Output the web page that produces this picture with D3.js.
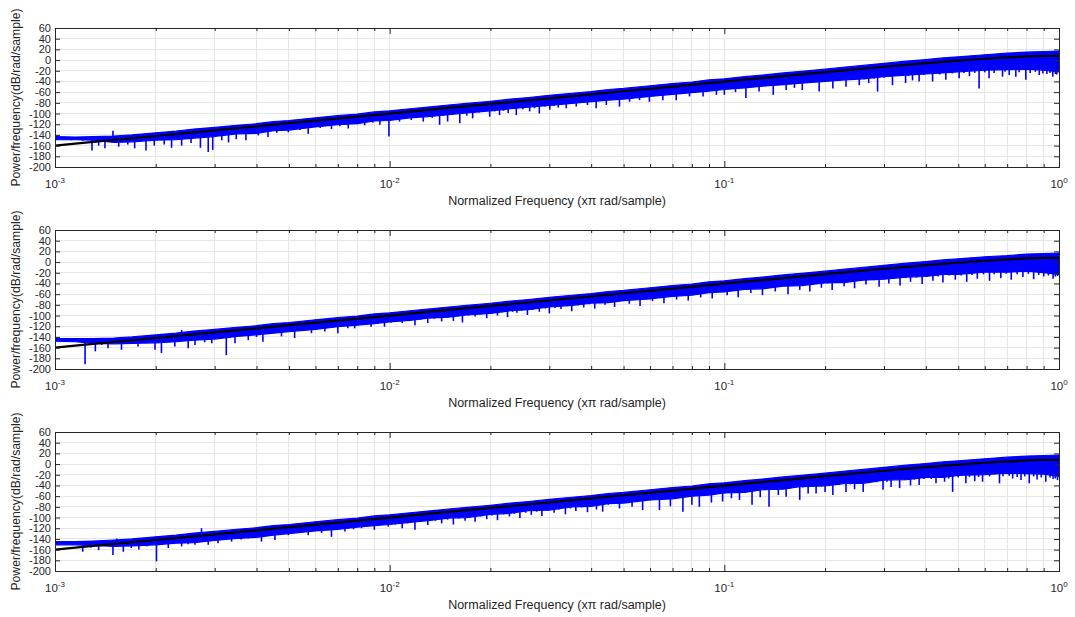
<!DOCTYPE html>
<html><head><meta charset="utf-8">
<script src="https://cdn.jsdelivr.net/npm/d3@7"></script>
<style>
body{margin:0;background:#fff}
svg{display:block}
text{font-family:"Liberation Sans",Arial,Helvetica,sans-serif;fill:#262626}
</style>
</head><body>
<svg id="chart" width="1075" height="617"></svg>
<script>
// ---------- data ----------
const yTickValues = [60,40,20,0,-20,-40,-60,-80,-100,-120,-140,-160,-180,-200];
const xDecades = [0.001, 0.01, 0.1, 1];
const xDecadeExponents = ["-3","-2","-1","0"];
const xLabelText = "Normalized Frequency (x\u03C0 rad/sample)";
const yLabelText = "Power/frequency(dB/rad/sample)";

// black fitted curve (same in all three panels)
const fitFreq = [0.001,0.002,0.005,0.01,0.02,0.05,0.1,0.2,0.3,0.4,0.5,0.6,0.7,0.8,0.9,1.0];
const fitDb   = [-160,-142,-118,-100,-82,-58.3,-40.3,-22.5,-12.5,-5.8,-1,2.5,5,6.8,7.7,8];

// dense blue PSD: upper / lower edge of the solid band
const bandFreq = [0.001,0.00115,0.0013,0.0015,0.0017,0.002,0.0023,0.0026,0.003,0.0035,0.004,0.0045,0.005,0.006,0.007,0.008,0.009,
  0.01,0.0115,0.013,0.015,0.017,0.02,0.023,0.026,0.03,0.035,0.04,0.045,0.05,0.06,0.07,0.08,0.09,
  0.1,0.115,0.13,0.15,0.17,0.2,0.23,0.26,0.3,0.35,0.4,0.45,0.5,0.6,0.7,0.8,0.9,1.0];
const band1Top = [-143,-144,-143,-142,-140,-136,-133,-129,-126,-122,-119,-115,-113,-108,-104,-101,-97,
  -95,-91,-88,-84,-81,-77,-73,-70,-66,-62,-59,-55,-53,-48,-44,-41,-37,
  -35,-31,-28,-24,-21,-17,-13,-10,-6,-2,1,4,6,10,13,15,16,17];
const band1Bottom = [-149,-149,-150,-154,-153,-150,-149,-146,-143,-138,-137,-132,-131,-125,-121,-119,-114,
  -113,-108,-106,-102,-99,-95,-91,-88,-85,-81,-78,-75,-73,-68,-64,-61,-58,
  -55,-52,-49,-46,-43,-40,-37,-35,-31,-28,-26,-24,-22,-19,-18,-17,-19,-22];
const band2Top = [-143,-143,-143,-142,-140,-136,-133,-129,-126,-122,-119,-115,-113,-108,-104,-101,-97,
  -95,-91,-88,-84,-81,-77,-73,-70,-66,-62,-59,-55,-53,-48,-44,-41,-37,
  -35,-31,-28,-24,-21,-17,-13,-10,-6,-2,1,4,6,10,12,15,16,17];
const band2Bottom = [-148,-149,-152,-153,-152,-151,-149,-146,-144,-139,-136,-133,-130,-126,-121,-118,-115,
  -112,-109,-105,-103,-99,-96,-91,-89,-84,-81,-77,-76,-72,-69,-64,-62,-57,
  -56,-51,-50,-45,-44,-39,-38,-34,-32,-28,-27,-23,-23,-19,-19,-17,-20,-23];
const band3Top = [-145,-145,-144,-142,-140,-136,-133,-129,-126,-122,-119,-115,-113,-108,-104,-101,-97,
  -95,-91,-88,-84,-81,-77,-73,-70,-66,-62,-59,-55,-53,-48,-44,-41,-37,
  -35,-31,-28,-24,-21,-17,-13,-10,-6,-2,1,4,6,10,13,15,16,17];
const band3Bottom = [-151,-151,-152,-154,-153,-151,-148,-147,-143,-139,-137,-133,-130,-125,-122,-118,-115,
  -113,-109,-106,-101,-100,-94,-92,-87,-86,-80,-79,-74,-73,-67,-65,-60,-58,
  -54,-53,-48,-47,-42,-41,-36,-36,-30,-29,-25,-25,-21,-20,-17,-18,-19,-23];

// blue PSD dips / spikes [frequency, dB]
const spikes1 = [
 [0.00112,-150],[0.00121,-151],[0.00129,-169],[0.00135,-160],[0.00141,-165],[0.00149,-132],[0.00155,-162],[0.00165,-158],
 [0.00173,-165],[0.00187,-169],[0.00198,-160],[0.00212,-158],[0.00223,-164],[0.00239,-160],[0.00255,-155],[0.00272,-164],
 [0.00287,-172],[0.00296,-168],[0.00315,-150],[0.0033,-154],[0.00348,-148],[0.00372,-150],[0.00405,-141],[0.00433,-144],
 [0.0046,-136],[0.00498,-135],[0.0054,-131],[0.00571,-138],[0.0062,-127],[0.0067,-129],[0.0071,-124],[0.00752,-128],
 [0.008,-120],[0.00842,-122],[0.0089,-117],[0.00935,-121],[0.00995,-143],
 [0.0107,-115],[0.0116,-112],[0.0126,-115],[0.0134,-108],[0.0141,-121],[0.0149,-115],[0.0162,-118],[0.017,-104],
 [0.0177,-109],[0.0199,-106],[0.0213,-103],[0.0226,-99],[0.0239,-103],[0.0262,-96],[0.028,-100],[0.0301,-93],
 [0.0319,-89],[0.0337,-90],[0.0361,-87],[0.039,-84],[0.0414,-90],[0.0444,-84],[0.0486,-87],[0.0521,-78],
 [0.0558,-75],[0.0597,-78],[0.0655,-75],[0.0718,-75],[0.0787,-68],[0.0864,-68],[0.0947,-65],
 [0.1,-65],[0.108,-60],[0.116,-71],[0.127,-59],[0.14,-65],[0.153,-56],[0.162,-52],[0.171,-56],[0.192,-59],
 [0.211,-53],[0.231,-50],[0.253,-47],[0.27,-43],[0.287,-59],[0.318,-47],[0.348,-43],[0.365,-38],[0.382,-40],
 [0.419,-40],[0.459,-37],[0.503,-34],[0.54,-30],[0.577,-53],[0.618,-34],[0.678,-31],[0.71,-28],[0.743,-31],
 [0.796,-37],[0.873,-28],[0.92,-26],[0.958,-31],[0.985,-27],
 [0.0103,-112],[0.0111,-110],[0.0121,-108],[0.0131,-106],[0.0145,-104],[0.0155,-102],[0.0185,-98],[0.0206,-96],
 [0.0219,-95],[0.025,-92],[0.0271,-90],[0.0291,-87],[0.031,-86],[0.0349,-82],[0.0375,-80],[0.0402,-79],[0.043,-76],
 [0.0465,-74],[0.05,-72],[0.054,-70],[0.0578,-68],[0.0625,-65],[0.0685,-63],[0.075,-61],[0.0825,-58],[0.09,-57],
 [0.104,-54],[0.112,-52],[0.121,-50],[0.133,-49],[0.146,-47],[0.158,-45],[0.182,-42],[0.2,-41],[0.221,-39],
 [0.242,-37],[0.262,-36],[0.28,-35],[0.3,-33],[0.335,-30],[0.355,-30],[0.395,-28],[0.44,-27],[0.48,-25],
 [0.52,-24],[0.56,-24],[0.6,-23],[0.64,-24],[0.69,-22],[0.76,-23],[0.82,-24],[0.85,-22],[0.895,-25],[0.94,-24],[0.975,-26]
];
const spikes2 = [
 [0.00112,-149],[0.00123,-191],[0.00132,-167],[0.00138,-155],[0.00144,-161],[0.00158,-164],[0.00167,-150],[0.00177,-158],
 [0.00199,-164],[0.00208,-170],[0.00228,-158],[0.00239,-127],[0.0025,-161],[0.00262,-155],[0.0028,-150],[0.00294,-152],
 [0.00325,-174],[0.00345,-152],[0.00378,-146],[0.004,-140],[0.00418,-149],[0.00475,-139],[0.0052,-142],[0.00584,-133],
 [0.0064,-130],[0.007,-133],[0.0075,-124],[0.00786,-124],[0.0088,-121],[0.00965,-121],
 [0.0109,-114],[0.0119,-118],[0.013,-114],[0.0143,-111],[0.0155,-110],[0.0165,-113],[0.018,-102],[0.0195,-105],
 [0.021,-100],[0.0225,-103],[0.024,-95],[0.0258,-99],[0.028,-93],[0.03,-96],[0.0325,-88],[0.035,-92],[0.038,-85],
 [0.041,-87],[0.044,-80],[0.047,-84],[0.052,-78],[0.056,-82],[0.061,-73],[0.066,-77],[0.072,-70],[0.078,-72],
 [0.085,-66],[0.092,-68],
 [0.102,-62],[0.11,-66],[0.12,-58],[0.13,-62],[0.142,-55],[0.155,-60],[0.168,-52],[0.18,-55],[0.195,-48],
 [0.21,-52],[0.228,-45],[0.245,-49],[0.265,-42],[0.29,-46],[0.31,-40],[0.335,-44],[0.36,-37],[0.39,-41],
 [0.42,-35],[0.45,-38],[0.49,-33],[0.53,-37],[0.57,-31],[0.62,-35],[0.67,-30],[0.72,-33],[0.78,-28],
 [0.84,-32],[0.9,-27],[0.96,-31],[0.99,-26],
 [0.0101,-113],[0.0114,-110],[0.0124,-108],[0.0136,-106],[0.0149,-104],[0.016,-102],[0.0172,-100],[0.0188,-98],
 [0.0203,-96],[0.0217,-94],[0.0233,-93],[0.0248,-91],[0.0268,-89],[0.0292,-87],[0.0312,-86],[0.0338,-83],
 [0.0365,-81],[0.0395,-79],[0.0425,-77],[0.0455,-75],[0.0495,-73],[0.054,-70],[0.0585,-68],[0.0635,-66],
 [0.069,-63],[0.075,-61],[0.0815,-59],[0.0885,-57],[0.096,-55],[0.106,-53],[0.115,-51],[0.125,-49],[0.136,-48],
 [0.148,-46],[0.161,-44],[0.174,-43],[0.187,-41],[0.203,-40],[0.22,-38],[0.237,-37],[0.255,-35],[0.28,-34],
 [0.3,-32],[0.322,-31],[0.348,-30],[0.375,-29],[0.405,-27],[0.435,-27],[0.47,-25],[0.51,-25],[0.55,-24],
 [0.595,-23],[0.64,-23],[0.695,-22],[0.75,-23],[0.81,-22],[0.87,-24],[0.93,-25],[0.975,-27]
];
const spikes3 = [
 [0.00113,-151],[0.00121,-164],[0.00128,-156],[0.00135,-161],[0.00149,-170],[0.00153,-139],[0.0016,-164],[0.00169,-157],
 [0.00178,-160],[0.00188,-154],[0.00201,-182],[0.00218,-157],[0.00239,-154],[0.0025,-150],[0.00262,-151],[0.00274,-120],
 [0.00287,-151],[0.00307,-148],[0.00337,-145],[0.0036,-141],[0.00378,-139],[0.00414,-145],[0.00454,-142],[0.00498,-133],
 [0.0054,-128],[0.00571,-133],[0.00626,-129],[0.0067,-136],[0.00735,-126],[0.0078,-122],[0.00824,-120],[0.009,-123],[0.0099,-117],
 [0.0109,-120],[0.0119,-123],[0.013,-114],[0.0143,-111],[0.0155,-113],[0.0168,-106],[0.018,-108],[0.0195,-103],
 [0.021,-105],[0.0228,-98],[0.0245,-101],[0.0265,-95],[0.0285,-97],[0.031,-91],[0.0335,-94],[0.036,-88],[0.039,-90],
 [0.0415,-85],[0.0433,-89],[0.0486,-83],[0.053,-80],[0.057,-86],[0.064,-86],[0.069,-79],[0.0752,-89],[0.08,-76],
 [0.0842,-80],[0.0915,-72],[0.0988,-70],
 [0.105,-64],[0.111,-67],[0.121,-76],[0.128,-62],[0.136,-80],[0.145,-58],[0.153,-61],[0.168,-67],[0.178,-55],
 [0.188,-55],[0.2,-52],[0.211,-58],[0.231,-52],[0.245,-47],[0.26,-52],[0.298,-48],[0.315,-43],[0.334,-45],
 [0.36,-40],[0.382,-39],[0.429,-36],[0.455,-33],[0.481,-52],[0.527,-36],[0.56,-32],[0.591,-33],[0.664,-36],
 [0.727,-27],[0.77,-30],[0.815,-36],[0.86,-29],[0.913,-33],[0.96,-28],[0.99,-30],
 [0.0104,-113],[0.0113,-111],[0.0124,-108],[0.0137,-106],[0.0149,-104],[0.0161,-102],[0.0174,-100],[0.0187,-98],
 [0.0202,-96],[0.0219,-94],[0.0236,-93],[0.0255,-91],[0.0275,-89],[0.0297,-87],[0.032,-85],[0.0347,-83],
 [0.0375,-81],[0.0402,-79],[0.045,-76],[0.051,-73],[0.055,-71],[0.06,-68],[0.0665,-65],[0.0725,-63],
 [0.078,-61],[0.0875,-58],[0.095,-56],[0.1,-55],[0.117,-51],[0.132,-49],[0.14,-48],[0.158,-45],[0.172,-44],
 [0.195,-42],[0.205,-41],[0.22,-39],[0.238,-38],[0.252,-36],[0.272,-35],[0.285,-34],[0.306,-33],[0.345,-30],
 [0.37,-29],[0.395,-28],[0.415,-28],[0.442,-26],[0.468,-27],[0.5,-25],[0.54,-24],[0.575,-24],[0.62,-23],
 [0.68,-23],[0.71,-22],[0.75,-24],[0.79,-23],[0.84,-23],[0.885,-25],[0.94,-25],[0.975,-27]
];

const panelData = [
  {top: band1Top, bottom: band1Bottom, spikes: spikes1},
  {top: band2Top, bottom: band2Bottom, spikes: spikes2},
  {top: band3Top, bottom: band3Bottom, spikes: spikes3}
];

// ---------- layout ----------
const svg = d3.select("#chart");
const plotLeft = 55, plotRight = 1059, plotH = 139, firstTop = 28, panelStep = 202;
const gridColor = "#e6e6e6", axisColor = "#262626", blue = "#0000ff";

const x = d3.scaleLog().domain([0.001, 1]).range([plotLeft, plotRight]);
const allTicks = x.ticks();
const majorTicks = xDecades;
const minorTicks = allTicks.filter(t => !majorTicks.some(m => Math.abs(m - t) / m < 1e-9));

panelData.forEach((pd, i) => {
  const top = firstTop + i * panelStep;
  const bottom = top + plotH;
  const y = d3.scaleLinear().domain([-200, 60]).range([bottom, top]);
  const g = svg.append("g");

  const clipId = "clip" + i;
  svg.append("clipPath").attr("id", clipId).append("rect")
    .attr("x", plotLeft).attr("y", top).attr("width", plotRight - plotLeft).attr("height", plotH);

  // grid
  g.append("g").selectAll("line").data(allTicks).join("line")
    .attr("x1", d => x(d)).attr("x2", d => x(d)).attr("y1", top).attr("y2", bottom)
    .attr("stroke", gridColor).attr("stroke-width", 1).attr("shape-rendering","crispEdges");
  g.append("g").selectAll("line").data(yTickValues).join("line")
    .attr("x1", plotLeft).attr("x2", plotRight).attr("y1", d => y(d)).attr("y2", d => y(d))
    .attr("stroke", gridColor).attr("stroke-width", 1).attr("shape-rendering","crispEdges");

  // blue PSD
  const dataG = g.append("g").attr("clip-path", `url(#${clipId})`);
  const band = bandFreq.map((f, k) => ({f, hi: pd.top[k], lo: pd.bottom[k]}));
  dataG.append("path").datum(band)
    .attr("d", d3.area().x(d => x(d.f)).y0(d => y(d.lo)).y1(d => y(d.hi)))
    .attr("fill", blue).attr("stroke", blue).attr("stroke-width", 1.2).attr("stroke-linejoin","round");
  const bottomAt = d3.scaleLog().domain(bandFreq).range(pd.bottom);
  dataG.append("g").selectAll("line").data(pd.spikes).join("line")
    .attr("x1", d => x(d[0])).attr("x2", d => x(d[0]))
    .attr("y1", d => y(bottomAt(d[0]) + 3)).attr("y2", d => y(d[1]))
    .attr("stroke", blue).attr("stroke-width", 1.6);

  // black fitted curve
  dataG.append("path").datum(fitFreq.map((f, k) => [f, fitDb[k]]))
    .attr("d", d3.line().x(d => x(d[0])).y(d => y(d[1])).curve(d3.curveMonotoneX))
    .attr("fill", "none").attr("stroke", "#000").attr("stroke-width", 2.2);

  // axes (ticks pointing inward, MATLAB style)
  const styleAxis = sel => { sel.select(".domain").remove(); sel.selectAll("line").attr("stroke", axisColor); };
  g.append("g").attr("transform", `translate(0,${bottom})`)
    .call(d3.axisBottom(x).tickValues(minorTicks).tickSize(-3).tickFormat("")).call(styleAxis);
  g.append("g").attr("transform", `translate(0,${bottom})`)
    .call(d3.axisBottom(x).tickValues(majorTicks).tickSize(-6).tickFormat("")).call(styleAxis);
  g.append("g").attr("transform", `translate(0,${top})`)
    .call(d3.axisTop(x).tickValues(minorTicks).tickSize(-3).tickFormat("")).call(styleAxis);
  g.append("g").attr("transform", `translate(0,${top})`)
    .call(d3.axisTop(x).tickValues(majorTicks).tickSize(-6).tickFormat("")).call(styleAxis);
  const yl = g.append("g").attr("transform", `translate(${plotLeft},0)`)
    .call(d3.axisLeft(y).tickValues(yTickValues).tickSize(-5).tickPadding(4).tickFormat(d => d));
  styleAxis(yl);
  yl.selectAll("text").attr("font-size", 11).attr("fill", axisColor)
    .attr("font-family", '"Liberation Sans",Arial,sans-serif');
  g.append("g").attr("transform", `translate(${plotRight},0)`)
    .call(d3.axisRight(y).tickValues(yTickValues).tickSize(-5).tickFormat("")).call(styleAxis);

  // box
  g.append("rect").attr("x", plotLeft).attr("y", top).attr("width", plotRight - plotLeft).attr("height", plotH)
    .attr("fill", "none").attr("stroke", axisColor).attr("stroke-width", 1).attr("shape-rendering","crispEdges");

  // x decade labels 10^n
  const lab = g.append("g").selectAll("text").data(majorTicks).join("text")
    .attr("x", d => x(d)).attr("y", bottom + 21).attr("text-anchor", "middle").attr("font-size", 11.5);
  lab.append("tspan").text("10");
  lab.append("tspan").attr("dy", -5).attr("font-size", 8).text((d, k) => xDecadeExponents[k]);

  // x label
  g.append("text").attr("x", (plotLeft + plotRight) / 2).attr("y", bottom + 38)
    .attr("text-anchor", "middle").attr("font-size", 12.5).text(xLabelText);

  // y label
  g.append("text").attr("transform", `translate(20,${(top + bottom) / 2}) rotate(-90)`)
    .attr("text-anchor", "middle").attr("font-size", 12.2).text(yLabelText);
});
</script>
</body></html>
